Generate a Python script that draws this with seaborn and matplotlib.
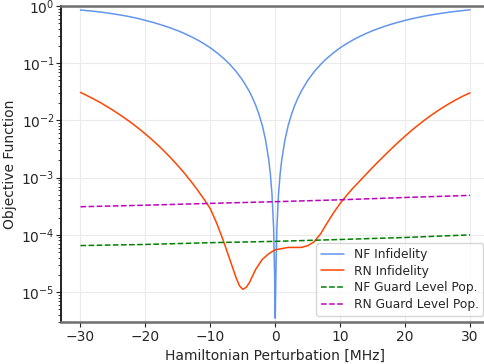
import numpy as np
import pandas as pd
import matplotlib
matplotlib.use("Agg")
import matplotlib.pyplot as plt
import seaborn as sns

# ---- data ----
nf_x = [-30, -29, -28, -27, -26, -25, -24, -23, -22, -21, -20, -19, -18, -17, -16, -15,
        -14, -13, -12, -11, -10, -9, -8, -7, -6, -5, -4, -3.5, -3, -2.5, -2, -1.5, -1,
        -0.75, -0.5, -0.25, -0.1, 0, 0.1, 0.25, 0.5, 0.75, 1, 1.5, 2, 2.5, 3, 3.5, 4,
        5, 6, 7, 8, 9, 10, 11, 12, 13, 14, 15, 16, 17, 18, 19, 20, 21, 22, 23, 24, 25,
        26, 27, 28, 29, 30]
nf_y = [0.85, 0.83, 0.81, 0.785, 0.76, 0.73, 0.70, 0.67, 0.635, 0.60, 0.56, 0.523, 0.485,
        0.447, 0.408, 0.37, 0.331, 0.293, 0.256, 0.22, 0.186, 0.153, 0.123, 0.0956, 0.0711,
        0.050, 0.0323, 0.0248, 0.0183, 0.0127, 0.0082, 0.0046, 0.00205, 0.00115, 5.1e-4,
        1.3e-4, 2.1e-5, 3.5e-6, 2.1e-5, 1.3e-4, 5.1e-4, 0.00115, 0.00205, 0.0046, 0.0082,
        0.0127, 0.0183, 0.0248, 0.0323, 0.050, 0.0711, 0.0956, 0.123, 0.153, 0.186, 0.22,
        0.256, 0.293, 0.331, 0.37, 0.408, 0.447, 0.485, 0.523, 0.56, 0.597, 0.632, 0.666,
        0.698, 0.728, 0.757, 0.785, 0.81, 0.834, 0.86]

rn_x = [-30, -29, -28, -27, -26, -25, -24, -23, -22, -21, -20, -19, -18, -17, -16, -15,
        -14, -13, -12, -11, -10, -9, -8, -7, -6, -5.5, -5, -4.5, -4, -3.5, -3, -2, -1,
        0, 1, 2, 3, 4, 5, 6, 7, 8, 9, 10, 11, 12, 13, 14, 15, 16, 17, 18, 19, 20, 21,
        22, 23, 24, 25, 26, 27, 28, 29, 30]
rn_y = [0.0309, 0.0272, 0.0238, 0.0207, 0.0177, 0.0151, 0.0127, 0.01064, 0.00879, 0.00718,
        0.00579, 0.00462, 0.00364, 0.00282, 0.00216, 0.00162, 0.0012, 8.67e-4, 6.14e-4,
        4.25e-4, 2.86e-4, 1.58e-4, 7.94e-5, 3.72e-5, 1.74e-5, 1.28e-5, 1.12e-5, 1.20e-5,
        1.45e-5, 1.91e-5, 2.51e-5, 3.72e-5, 4.68e-5, 5.5e-5, 5.75e-5, 6.03e-5, 6.03e-5,
        6.03e-5, 6.46e-5, 7.59e-5, 1.05e-4, 1.62e-4, 2.45e-4, 3.55e-4, 4.9e-4, 6.61e-4,
        8.71e-4, 1.15e-3, 1.51e-3, 1.97e-3, 2.55e-3, 3.29e-3, 4.21e-3, 5.33e-3, 6.68e-3,
        8.28e-3, 0.01014, 0.01227, 0.01469, 0.01738, 0.02032, 0.0235, 0.0269, 0.0303]

guard_x = [-30, -20, -10, 0, 10, 20, 30]
nf_guard = [6.5e-5, 6.8e-5, 7.3e-5, 7.7e-5, 8.3e-5, 9.0e-5, 1.0e-4]
rn_guard = [3.1e-4, 3.3e-4, 3.55e-4, 3.8e-4, 4.1e-4, 4.5e-4, 4.9e-4]

labels = ["NF Infidelity", "RN Infidelity", "NF Guard Level Pop.", "RN Guard Level Pop."]
colors = ["cornflowerblue", "orangered", "green", "m"]

# ---- figure ----
sns.set_style("whitegrid")
plt.rcParams["font.family"] = ["DejaVu Sans"]

fig = plt.figure(figsize=(4.85, 3.64), dpi=100)
ax = fig.add_axes([61 / 485, 42 / 364, 428.5 / 485, 316 / 364])

series = [(nf_x, nf_y, "-"), (rn_x, rn_y, "-"), (guard_x, nf_guard, "--"), (guard_x, rn_guard, "--")]
for (xs, ys, ls), lab, col in zip(series, labels, colors):
    df = pd.DataFrame({"x": xs, "y": ys})
    sns.lineplot(data=df, x="x", y="y", ax=ax, color=col, linestyle=ls, linewidth=1.1,
                 label=lab, estimator=None, sort=True)

ax.set_yscale("log")
ax.set_ylim(3e-6, 1)
ax.set_xlim(-33, 33)
ax.set_xticks([-30, -20, -10, 0, 10, 20, 30])
ax.set_xlabel("Hamiltonian Perturbation [MHz]", fontsize=10)
ax.set_ylabel("Objective Function", fontsize=10)
ax.yaxis.set_label_coords(-0.102, 0.5)

ax.grid(True, which="major", color="#ebebeb", linewidth=0.8)
ax.grid(False, which="minor")
ax.tick_params(axis="both", which="major", length=3.5, width=0.8, color="#222222",
               labelsize=10, bottom=True, left=True, pad=2)
ax.tick_params(axis="y", which="major", pad=1)
ax.tick_params(axis="y", which="minor", length=2, width=0.6, color="#222222", left=True)

for s in ["top", "bottom", "right"]:
    ax.spines[s].set_color("#6e6e6e")
    ax.spines[s].set_linewidth(1.8)
ax.spines["left"].set_color("#111111")
ax.spines["left"].set_linewidth(1.3)

leg = ax.legend(loc="lower right", fontsize=8.8, frameon=True, labelspacing=0.3,
                handlelength=1.85, handletextpad=0.8, borderpad=0.4)
leg.get_frame().set_edgecolor("#cccccc")

fig.savefig("out.png", dpi=100)
